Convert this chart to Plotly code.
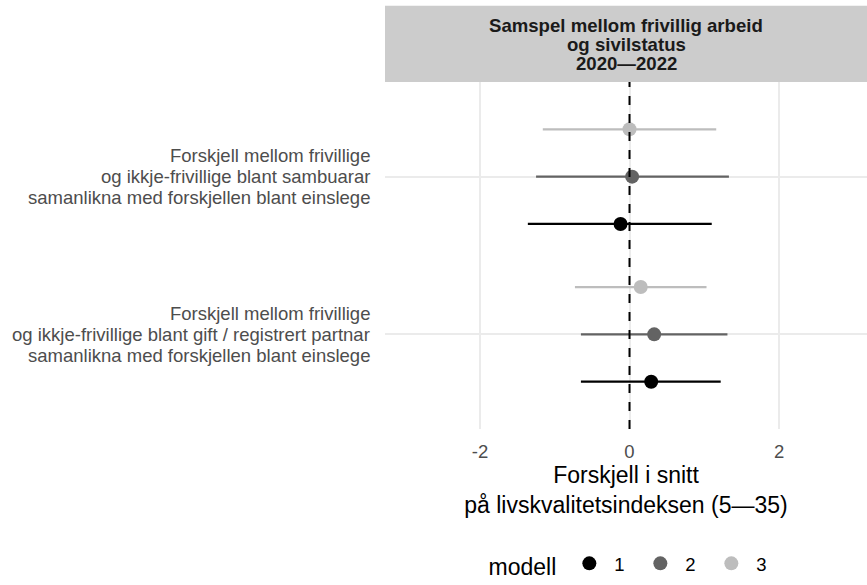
import plotly.graph_objects as go

# ---- data ----
categories = [
    ["Forskjell mellom frivillige",
     "og ikkje-frivillige blant sambuarar",
     "samanlikna med forskjellen blant einslege"],
    ["Forskjell mellom frivillige",
     "og ikkje-frivillige blant gift / registrert partnar",
     "samanlikna med forskjellen blant einslege"],
]
models = ["1", "2", "3"]
estimate = {"1": [-0.12, 0.29], "2": [0.035, 0.33], "3": [0.0, 0.15]}
lower = {"1": [-1.36, -0.65], "2": [-1.25, -0.65], "3": [-1.16, -0.73]}
upper = {"1": [1.10, 1.22], "2": [1.33, 1.31], "3": [1.16, 1.03]}
x_ticks = [-2, 0, 2]
x_ticktext = ["-2", "0", "2"]

title_lines = ["Samspel mellom frivillig arbeid", "og sivilstatus", "2020—2022"]
x_title = "Forskjell i snitt<br>på livskvalitetsindeksen (5—35)"
legend_title = "modell"

# ---- style ----
colors = {"1": "#000000", "2": "#636363", "3": "#bdbdbd"}
dodge = {"1": -0.3, "2": 0.0, "3": 0.3}
FONT = "Liberation Sans, Arial, sans-serif"
TICK = 18.5
LINE_GAP = 21
PANEL_H = 350

n = len(categories)
cat_pos = [n - i for i in range(n)]  # first category at top

fig = go.Figure()
for m in models:
    ys = [p + dodge[m] for p in cat_pos]
    est = estimate[m]
    fig.add_trace(go.Scatter(
        x=est, y=ys, mode="markers", name=m,
        marker=dict(color=colors[m], size=14),
        error_x=dict(type="data", symmetric=False,
                     array=[u - e for u, e in zip(upper[m], est)],
                     arrayminus=[e - l for e, l in zip(est, lower[m])],
                     color=colors[m], thickness=2.2, width=0),
    ))

fig.add_shape(type="line", x0=0, x1=0, xref="x", y0=0, y1=1, yref="y domain",
              line=dict(color="black", width=2, dash="dash"), layer="above")

# y category labels (one annotation per line for ggplot-like line spacing)
for pos, lines in zip(cat_pos, categories):
    k = len(lines)
    for j, line in enumerate(lines):
        fig.add_annotation(text=line, xref="paper", yref="y", x=0, y=pos,
                           xanchor="right", yanchor="middle", xshift=-13,
                           yshift=((k - 1) / 2 - j) * LINE_GAP, showarrow=False,
                           font=dict(family=FONT, size=TICK, color="#4d4d4d"))

# strip
strip_h = 77 / PANEL_H
fig.add_shape(type="rect", xref="paper", yref="paper", x0=0, x1=1, y0=1, y1=1 + strip_h,
              fillcolor="#cccccc", line=dict(width=0), layer="below")
for j, line in enumerate(title_lines):
    fig.add_annotation(text="<b>" + line + "</b>", xref="paper", yref="paper", x=0.5, y=1,
                       xanchor="center", yanchor="middle", yshift=57 - 19 * j,
                       showarrow=False,
                       font=dict(family=FONT, size=18.6, color="#1a1a1a"))

fig.update_layout(
    width=867, height=585,
    margin=dict(l=385, r=0, t=82, b=585 - 82 - PANEL_H),
    plot_bgcolor="white", paper_bgcolor="white",
    font=dict(family=FONT, color="#4d4d4d"),
    showlegend=True,
    legend=dict(orientation="h", x=0.5126, xanchor="center", y=-137 / PANEL_H, yanchor="middle",
                title=dict(text=legend_title, font=dict(size=23, color="black")),
                font=dict(size=TICK, color="black"), entrywidth=16, itemwidth=40),
    xaxis=dict(range=[-3.271, 3.177], tickvals=x_ticks, ticktext=x_ticktext,
               showgrid=True, gridcolor="#ebebeb", gridwidth=1.5, zeroline=False,
               showline=False, ticks="", tickfont=dict(size=TICK, color="#4d4d4d"),
               ticklabelstandoff=9,
               title=dict(text=x_title, font=dict(size=23, color="black"), standoff=6)),
    yaxis=dict(range=[0.4, 2.6], tickvals=cat_pos, showticklabels=False,
               showgrid=True, gridcolor="#ebebeb", gridwidth=1.5, zeroline=False,
               showline=False, ticks=""),
)

fig.write_html("out.html", post_script="document.body.style.margin='0';",
               config={"displayModeBar": False})
